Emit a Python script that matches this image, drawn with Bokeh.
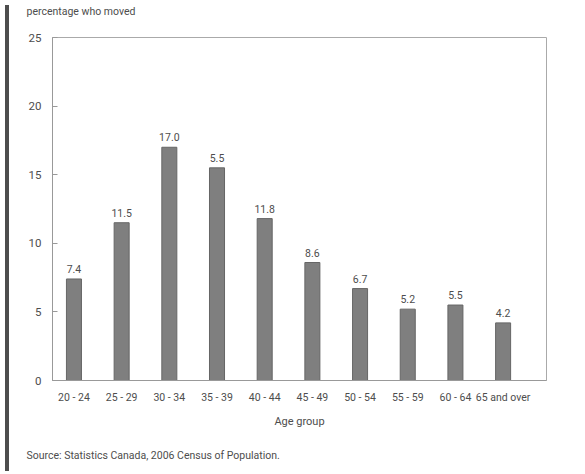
from bokeh.plotting import figure
from bokeh.models import FixedTicker, Range1d, Title, Div, ColumnDataSource
from bokeh.layouts import row
from bokeh.core.properties import value
from bokeh.embed import file_html
from bokeh.resources import INLINE

categories = ["20 - 24", "25 - 29", "30 - 34", "35 - 39", "40 - 44",
              "45 - 49", "50 - 54", "55 - 59", "60 - 64", "65 and over"]
percent_moved = [7.4, 11.5, 17.0, 15.5, 11.8, 8.6, 6.7, 5.2, 5.5, 4.2]
value_labels = ["7.4", "11.5", "17.0", "5.5", "11.8", "8.6", "6.7", "5.2", "5.5", "4.2"]
y_ticks = [0, 5, 10, 15, 20, 25]

FONT = "Roboto"
TXT = "#4d4d4d"

idx = list(range(len(categories)))
src = ColumnDataSource(dict(x=idx, y=percent_moved, lab=value_labels))

p = figure(frame_width=494, frame_height=343, output_backend="svg",
           toolbar_location=None, x_range=Range1d(-0.45, 9.91),
           y_range=Range1d(0, 25))
p.min_border_left = 38
p.min_border_top = 37
p.min_border_right = 33
p.min_border_bottom = 78

p.vbar(x="x", top="y", width=0.315, source=src, fill_color="#7f7f7f",
       line_color="#666666", line_width=1)
p.text(x="x", y="y", text="lab", source=src, y_offset=-6,
       text_align="center", text_baseline="bottom",
       text_font=value(FONT), text_font_size="10.5px", text_color=TXT)

p.xgrid.visible = False
p.ygrid.visible = False
p.outline_line_color = "#aaaaaa"

p.xaxis.ticker = FixedTicker(ticks=idx)
p.xaxis.major_label_overrides = {i: c for i, c in enumerate(categories)}
p.xaxis.major_tick_line_color = None
p.xaxis.minor_tick_line_color = None
p.xaxis.axis_line_color = "#999999"
p.xaxis.major_label_standoff = 4
p.xaxis.major_label_text_font = FONT
p.xaxis.major_label_text_font_size = "10.5px"
p.xaxis.major_label_text_color = TXT
p.xaxis.axis_label = "Age group"
p.xaxis.axis_label_text_font = FONT
p.xaxis.axis_label_text_font_size = "11px"
p.xaxis.axis_label_text_font_style = "normal"
p.xaxis.axis_label_text_color = TXT
p.xaxis.axis_label_standoff = 8

p.yaxis.ticker = FixedTicker(ticks=y_ticks)
p.yaxis.major_tick_in = 5
p.yaxis.major_tick_out = 0
p.yaxis.major_tick_line_color = "#999999"
p.yaxis.minor_tick_line_color = None
p.yaxis.axis_line_color = "#999999"
p.yaxis.major_label_standoff = 11
p.yaxis.major_label_text_font = FONT
p.yaxis.major_label_text_font_size = "11.5px"
p.yaxis.major_label_text_color = TXT

# spacer panel next to the frame, then the unit caption above it
spacer = Title(text=" ", text_font_size="4px", standoff=11)
p.add_layout(spacer, "above")
top_title = Title(text="percentage who moved", align="left", offset=-26,
                  text_font=FONT, text_font_size="10.5px",
                  text_font_style="normal", text_color=TXT, standoff=0,
                  vertical_align="top")
p.add_layout(top_title, "above")
src_title = Title(text="Source: Statistics Canada, 2006 Census of Population.",
                  align="left", offset=-26, text_font=FONT,
                  text_font_size="10.5px", text_font_style="normal",
                  text_color=TXT, standoff=32)
p.add_layout(src_title, "below")

bar = Div(text="", width=4, height=466,
          styles={"background-color": "#4d4d4d"})
layout = row(bar, p, spacing=0)

open("out.html", "w").write(file_html(layout, INLINE))
